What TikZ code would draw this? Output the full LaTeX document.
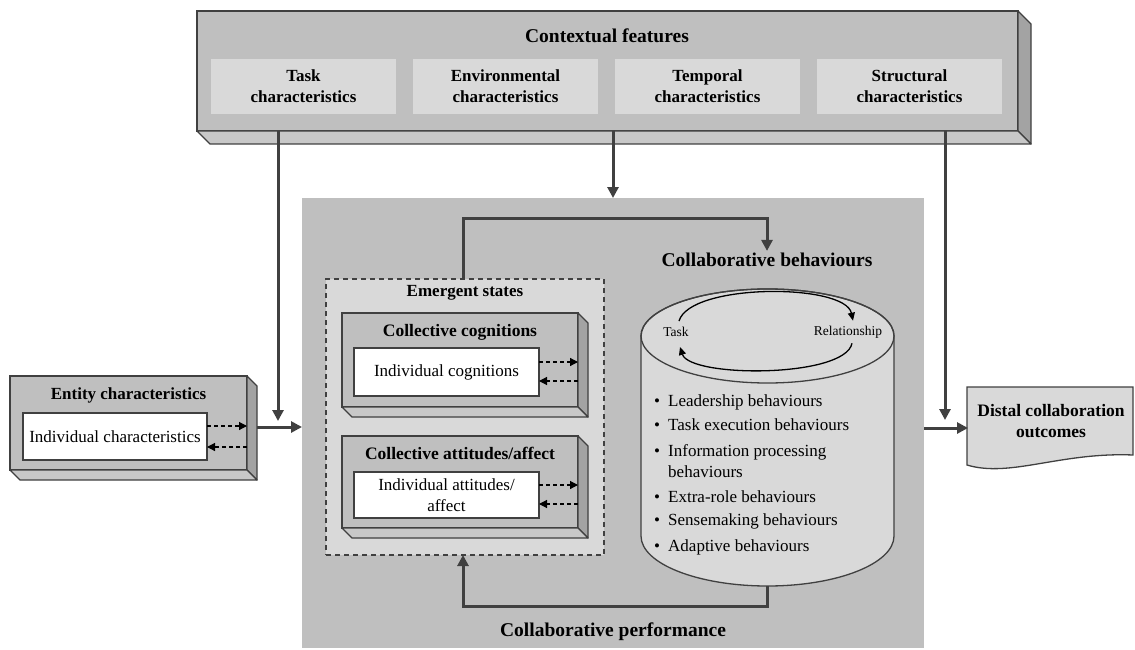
\documentclass[tikz,border=0pt]{standalone}
\usepackage{fontspec}
\setmainfont{Liberation Serif}
\usetikzlibrary{arrows.meta,calc}
\definecolor{dk}{HTML}{404040}
\definecolor{mid}{HTML}{BFBFBF}
\definecolor{lt}{HTML}{D9D9D9}
\definecolor{side}{HTML}{A3A3A3}
\definecolor{bot}{HTML}{C8C8C8}
\newcommand\fsz[1]{\fontsize{#1}{21}\selectfont}
\newcommand\mkcube[2]{%
  \filldraw[draw=dk, line width=1.3, line join=round, fill=side] (#1.north east) -- ++(#2,-#2) -- ($(#1.south east)+(#2,-#2)$) -- (#1.south east) -- cycle;
  \filldraw[draw=dk, line width=1.3, line join=round, fill=bot] (#1.south west) -- ($(#1.south west)+(#2,-#2)$) -- ($(#1.south east)+(#2,-#2)$) -- (#1.south east) -- cycle;
}
\begin{document}
\begin{tikzpicture}[x=1pt,y=1pt,
  face/.style={draw=dk, line width=1.3, fill=mid, inner sep=0, outer sep=0},
  lbox/.style={fill=lt, inner sep=0, outer sep=0, align=center, font=\bfseries\fsz{17}, minimum width=185, minimum height=55},
  wbox/.style={draw=dk, line width=1.3, fill=white, inner sep=0, outer sep=0, align=center, font=\fsz{17}},
  ttl/.style={font=\bfseries\fsz{17}, inner sep=0},
  bigttl/.style={font=\bfseries\fsz{19.5}, inner sep=0},
  arr/.style={draw=dk, line width=3, -{Triangle[length=11,width=11]}},
  darr/.style={draw=black, line width=1.2, dash pattern=on 4 off 3, -{Triangle[length=8,width=8]}},
  loopar/.style={draw=black, line width=1.3, -{Triangle[length=8,width=7]}},
  bul/.style={font=\fsz{17}, inner sep=0, anchor=base west},
  small/.style={font=\fsz{13.5}, inner sep=0},
]
\useasboundingbox (0,0) rectangle (1135,-650);

% ---------- collaborative performance area ----------
\node[fill=mid, inner sep=0, outer sep=0, minimum width=622, minimum height=450] (perf) at (613,-423) {};
\node[bigttl] (perfT) at (613,-632) {Collaborative performance};

% ---------- emergent states ----------
\node[draw=dk, line width=1.2, dash pattern=on 5 off 4, fill=lt, inner sep=0, outer sep=0, minimum width=278, minimum height=276] (emerg) at (465,-417) {};
\node[ttl] (emergT) at (465,-293) {Emergent states};

\node[face, minimum width=236, minimum height=94] (cog) at (460,-360) {};
\mkcube{cog}{10}
\node[ttl, font=\bfseries\fsz{17.5}] (cogT) at (460,-332) {Collective cognitions};
\node[wbox, minimum width=185, minimum height=48] (cogW) at (446.5,-372) {Individual cognitions};
\draw[darr] (cogW.east |- 0,-362) -- (cog.east |- 0,-362);
\draw[darr] (cog.east |- 0,-381) -- (cogW.east |- 0,-381);

\node[face, minimum width=236, minimum height=92] (att) at (460,-482) {};
\mkcube{att}{10}
\node[ttl, font=\bfseries\fsz{17.5}] (attT) at (460,-453) {Collective attitudes/affect};
\node[wbox, minimum width=185, minimum height=46] (attW) at (446.5,-495) {Individual attitudes/\\affect};
\draw[darr] (attW.east |- 0,-485) -- (att.east |- 0,-485);
\draw[darr] (att.east |- 0,-504) -- (attW.east |- 0,-504);

% ---------- collaborative behaviours cylinder ----------
\node[bigttl] (cbT) at (767,-260) {Collaborative behaviours};
\filldraw[fill=lt, draw=dk, line width=1.3] (641,-336) -- (641,-536)
  arc[start angle=180, end angle=360, x radius=126.5, y radius=50]
  -- (894,-336) arc[start angle=0, end angle=180, x radius=126.5, y radius=47] -- cycle;
\draw[dk, line width=1.3] (767.5,-336) ellipse[x radius=126.5, y radius=47];
\coordinate (cylB) at (767,-586);

\node[small] (tk) at (676,-332) {Task};
\node[small] (rel) at (848,-332) {Relationship};
\draw[loopar] ([shift={(3,6)}]tk.north) .. controls (690,-283) and (845,-283) .. ([shift={(5,5)}]rel.north);
\draw[loopar] ([shift={(4,-5)}]rel.south) .. controls (845,-378) and (690,-378) .. ([shift={(4,-10)}]tk.south);

\node[bul] (b1) at (654,-406) {\makebox[14pt][l]{\textbullet}Leadership behaviours};
\node[bul] (b2) at (654,-430) {\makebox[14pt][l]{\textbullet}Task execution behaviours};
\node[bul] (b3) at (654,-456) {\makebox[14pt][l]{\textbullet}Information processing};
\node[bul] (b3b) at (654,-477) {\hspace*{14pt}behaviours};
\node[bul] (b4) at (654,-502) {\makebox[14pt][l]{\textbullet}Extra-role behaviours};
\node[bul] (b5) at (654,-525) {\makebox[14pt][l]{\textbullet}Sensemaking behaviours};
\node[bul] (b6) at (654,-551) {\makebox[14pt][l]{\textbullet}Adaptive behaviours};

% feedback loops
\draw[arr] (emerg.north -| 463,0) |- (767,-218) -- ([yshift=2]cbT.north);
\draw[arr] (cylB) -- ++(0,-20) -| (emerg.south -| 463,0);

% ---------- contextual features ----------
\node[face, minimum width=821, minimum height=120] (ctx) at (607.5,-71) {};
\mkcube{ctx}{13}
\node[bigttl] (ctxT) at (607,-36) {Contextual features};
\node[lbox] (task) at (303.5,-86.5) {Task\\characteristics};
\node[lbox] (env) at (505.5,-86.5) {Environmental\\characteristics};
\node[lbox] (temp) at (707.5,-86.5) {Temporal\\characteristics};
\node[lbox] (struc) at (909.5,-86.5) {Structural\\characteristics};

% ---------- entity characteristics ----------
\node[face, minimum width=237, minimum height=94] (ent) at (128.5,-423) {};
\mkcube{ent}{10}
\node[ttl] (entT) at (128.5,-395) {Entity characteristics};
\node[wbox, minimum width=184, minimum height=47] (entW) at (115,-436.5) {Individual characteristics};
\draw[darr] (entW.east |- 0,-426) -- (ent.east |- 0,-426);
\draw[darr] (ent.east |- 0,-447) -- (entW.east |- 0,-447);

% ---------- distal outcomes ----------
\filldraw[fill=lt, draw=dk, line width=1.3] (967,-387) -- (1133,-387) -- (1133,-455)
  .. controls (1060,-452) and (1010,-478) .. (967,-465) -- cycle;
\node[font=\bfseries\fsz{17.5}, align=center, inner sep=0, outer sep=0, minimum width=166] (dist) at (1051,-421) {Distal collaboration\\outcomes};

% ---------- main connectors ----------
\coordinate (j1) at (278,-421);
\coordinate (j2) at (945,-420);
\draw[arr] (ctx.south -| j1) -- (j1);
\draw[arr] (ctx.south -| perf.north) -- (perf.north);
\draw[arr] (ctx.south -| j2) -- (j2);
\draw[arr] ($(ent.east)+(10,-4)$) -- (perf.west |- 0,-427);
\draw[arr] (perf.east |- 0,-428) -- (dist.west |- 0,-428);
\end{tikzpicture}
\end{document}
